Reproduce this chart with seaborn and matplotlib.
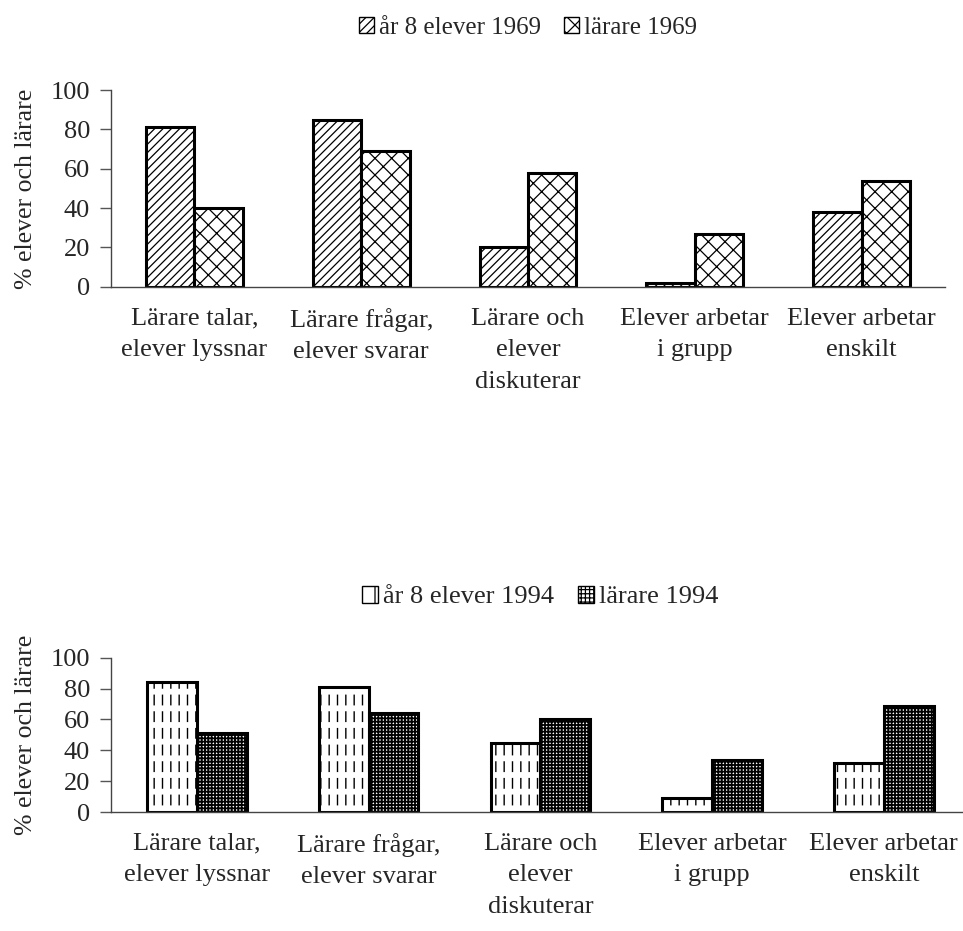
import matplotlib
matplotlib.use("Agg")
import matplotlib.pyplot as plt
import seaborn as sns
import pandas as pd
from matplotlib.patches import Patch

# ---- data ----
kategorier = ["Lärare talar,\nelever lyssnar", "Lärare frågar,\nelever svarar",
              "Lärare och\nelever\ndiskuterar", "Elever arbetar\ni grupp",
              "Elever arbetar\nenskilt"]
serier_1969 = ["år 8 elever 1969", "lärare 1969"]
elever_1969 = [81, 85, 20, 2, 38]
larare_1969 = [40, 69, 58, 27, 54]
serier_1994 = ["år 8 elever 1994", "lärare 1994"]
elever_1994 = [84, 81, 45, 9, 32]
larare_1994 = [51, 64, 60, 34, 69]
y_ticks = [0, 20, 40, 60, 80, 100]
y_label = "% elever och lärare"

sns.set_theme(style="white")
plt.rcParams["font.family"] = ["Liberation Serif", "DejaVu Serif"]
plt.rcParams["hatch.linewidth"] = 0.9

fig = plt.figure(figsize=(9.63, 9.31), dpi=100)
ax1 = fig.add_axes([0.1153, 0.6920, 0.8660, 0.2113])
ax2 = fig.add_axes([0.1153, 0.1278, 0.8917, 0.1657])


def long_df(a, b, names):
    return pd.DataFrame({"kategori": kategorier * 2,
                         "procent": a + b,
                         "serie": [names[0]] * len(a) + [names[1]] * len(b)})


def bars(ax, df, names, **kw):
    n0 = len(ax.containers)
    sns.barplot(data=df, x="kategori", y="procent", hue="serie",
                order=kategorier, hue_order=names, palette=["white", "white"],
                saturation=1, width=0.58, errorbar=None, legend=False, ax=ax, **kw)
    return ax.containers[n0:]


def set_hlw(p, lw):
    if hasattr(p, "set_hatch_linewidth"):
        p.set_hatch_linewidth(lw)


def style_axes(ax, names, handles, legend_y, legend_fs):
    ax.set_xlim(-0.5, len(kategorier) - 0.5)
    ax.set_ylim(0, 100)
    ax.set_yticks(y_ticks)
    ax.set_yticklabels([str(t) for t in y_ticks], fontsize=19)
    ax.set_xticks(range(len(kategorier)))
    ax.set_xticklabels(kategorier, fontsize=19, linespacing=1.56)
    ax.set_xticks([i - 0.5 for i in range(len(kategorier) + 1)], minor=True)
    ax.tick_params(axis="x", which="major", length=0, pad=15)
    ax.tick_params(axis="x", which="minor", length=8, width=1, color="#555555", direction="out")
    ax.tick_params(axis="y", which="major", length=8, width=1, color="#555555", direction="out", pad=7, left=True)
    ax.set_xlabel("")
    ax.set_ylabel(y_label, fontsize=18.5, labelpad=10)
    sns.despine(ax=ax)
    for s in ["left", "bottom"]:
        ax.spines[s].set_color("#444444")
        ax.spines[s].set_linewidth(1)
    ax.legend(handles=handles, labels=names, loc="center", bbox_to_anchor=(0.5, legend_y),
              ncol=2, frameon=False, fontsize=legend_fs, handlelength=0.6, handleheight=0.6,
              handletextpad=0.2, columnspacing=0.9, borderaxespad=0)


# ---- 1969 ----
df69 = long_df(elever_1969, larare_1969, serier_1969)
c = bars(ax1, df69, serier_1969, edgecolor="black", linewidth=2.2)
for p in c[0]:
    p.set_hatch("////")
for p in c[1]:
    p.set_hatch("xx")
h69 = [Patch(facecolor="white", edgecolor="black", hatch="////", linewidth=1),
       Patch(facecolor="white", edgecolor="black", hatch="xx", linewidth=1)]
style_axes(ax1, serier_1969, h69, 1.315, 18)

# ---- 1994 ----
df94 = long_df(elever_1994, larare_1994, serier_1994)
c = bars(ax2, df94, serier_1994, edgecolor="black", linewidth=2.2)
for p in c[0]:
    p.set_hatch("||")
    p.set_linewidth(0)
    set_hlw(p, 1.0)
for p in c[1]:
    p.set_hatch("+++++")
    set_hlw(p, 1.3)
# white breaks to make vertical dashes
c = bars(ax2, df94, serier_1994, edgecolor="white", linewidth=0)
for p in c[0]:
    p.set_facecolor("none")
    p.set_hatch("-")
    set_hlw(p, 4.2)
for p in c[1]:
    p.set_visible(False)
# outlines on top
c = bars(ax2, df94, serier_1994, edgecolor="black", linewidth=2.2)
for p in c[0]:
    p.set_facecolor("none")
for p in c[1]:
    p.set_visible(False)
h94 = [Patch(facecolor="white", edgecolor="black", hatch="|", linewidth=1),
       Patch(facecolor="white", edgecolor="black", hatch="++++", linewidth=1)]
style_axes(ax2, serier_1994, h94, 1.393, 19)

fig.savefig("out.png", dpi=100)
